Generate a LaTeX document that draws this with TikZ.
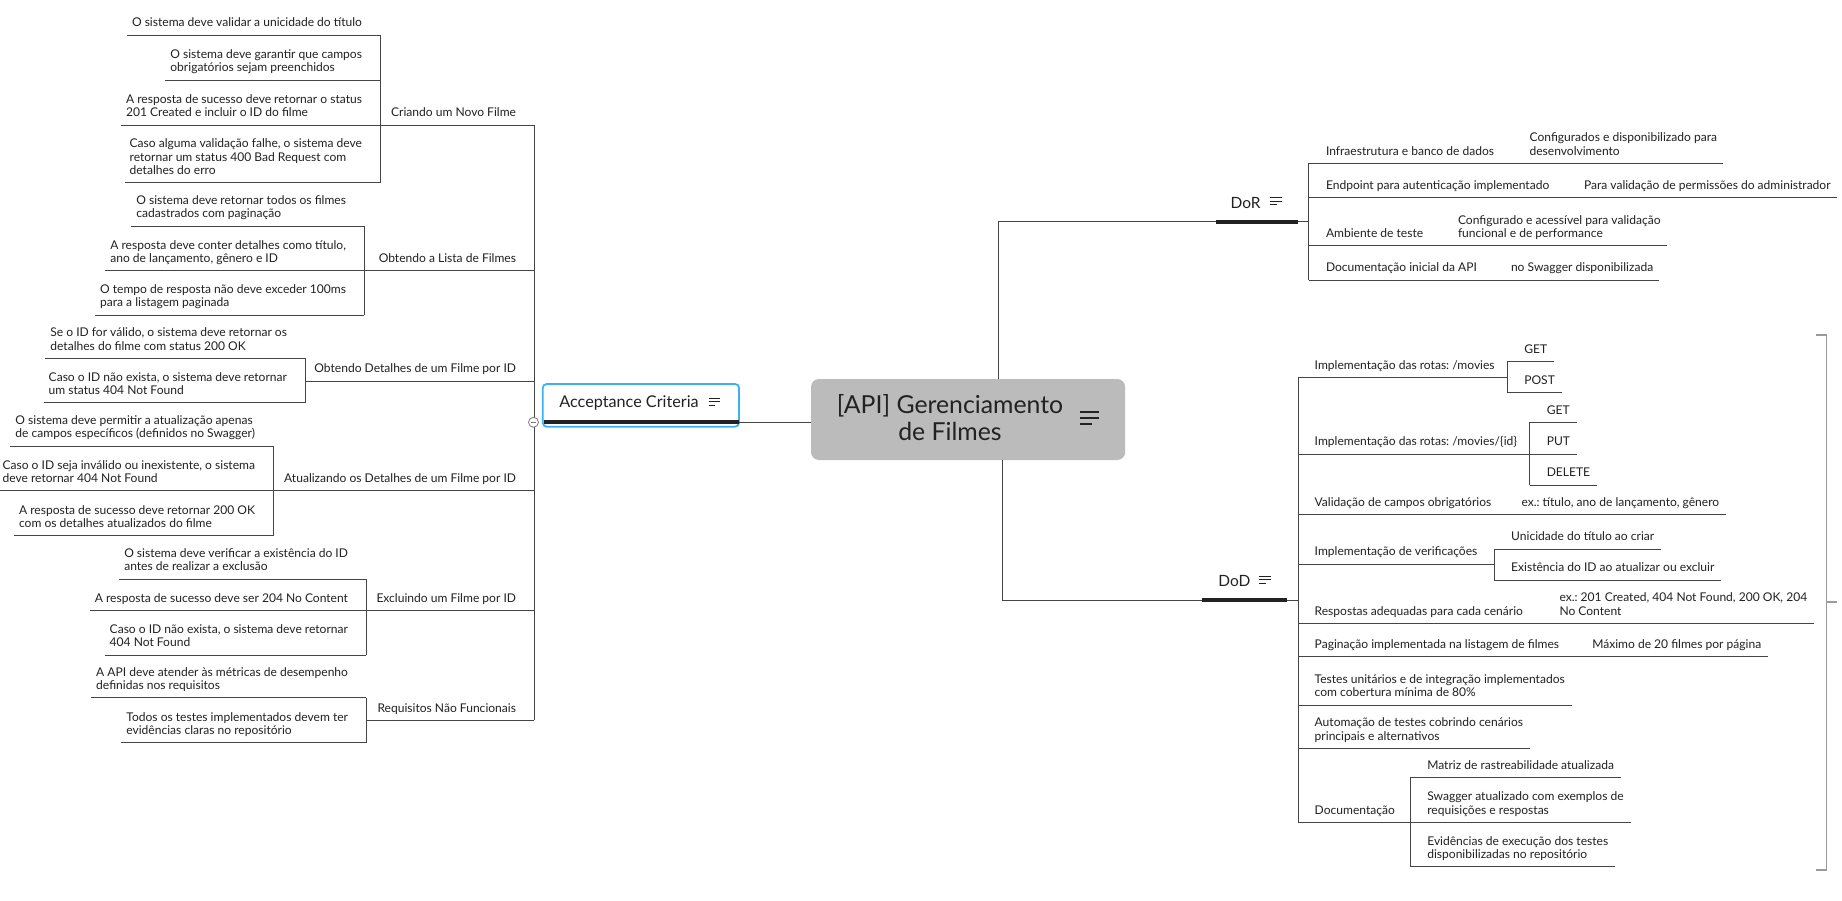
\documentclass[tikz,border=0pt]{standalone}
\usepackage{fontspec}
\setmainfont{Lato}
\usetikzlibrary{positioning,calc}
\definecolor{inkc}{HTML}{222222}
\definecolor{wirec}{HTML}{444444}
\definecolor{rootfill}{HTML}{BBBBBB}
\definecolor{selblue}{HTML}{38B2F0}
\definecolor{sumgray}{HTML}{9A9A9A}
\definecolor{foldgray}{HTML}{7A7A7A}
\frenchspacing

\begin{document}
\begin{tikzpicture}[
    x=1pt, y=-1pt,
    every node/.style={text=inkc, inner sep=0pt, outer sep=0pt},
    leaf/.style={font=\fontsize{12.05}{13.4}\selectfont, align=left, outer ysep=4pt, execute at end node=\strut},
    lt/.style={leaf, anchor=south east},
    rt/.style={leaf, anchor=south west},
    topic/.style={font=\fontsize{15.5}{18}\selectfont, anchor=base west},
    wire/.style={draw=wirec, line width=0.9pt},
    bar/.style={draw=inkc, line width=4pt},
    rootbox/.style={fill=rootfill, rounded corners=8pt, minimum width=314.2pt, minimum height=81pt},
    acbox/.style={draw=selblue, line width=1.8pt, fill=white, rounded corners=4pt, minimum width=196.3pt, minimum height=42.7pt},
    notes/.pic={\draw[pic actions] (0,0) -- (1,0) (0,0.32) -- (1,0.32) (0,0.64) -- (0.6,0.64);},
]
\fill[white] (0,0) rectangle (1842,901);
\useasboundingbox (0,0) rectangle (1842,901);

% centre
\node[rootbox] (root) at (968.1,419.5) {};
\node[font=\fontsize{24.8}{27.3}\selectfont, align=center] (rootlbl) at (950,417.5) {[API] Gerenciamento\\de Filmes};
\pic[draw=inkc, line width=1.8pt, scale=19.4] at (1080,411.7) {notes};

% acceptance criteria
\node[acbox] (ac) at (640.9,405.35) {};
\node[topic, font=\fontsize{16.2}{18}\selectfont] (aclbl) at (559.3,407.7) {Acceptance Criteria};
\pic[draw=inkc, line width=0.9pt, scale=11.2] at (708.5,398) {notes};
\coordinate (acbar) at (739,422.3);
\draw[bar] (543.5,422.3) -- (acbar);
\draw[wire] (acbar) -- (acbar -| root.west);

\coordinate (acT) at (534,125);
\coordinate (crT) at (380,125);
\coordinate (liT) at (364,270.7);
\coordinate (deT) at (305,381);
\coordinate (atT) at (273,490.7);
\coordinate (exT) at (366,610.3);
\coordinate (reT) at (366,720.3);

\node[lt] (cr) at (516,125) {Criando um Novo Filme};
\node[lt] (cr1) at (362,35) {O sistema deve validar a unicidade do título};
\node[lt] (cr2) at (362,80) {O sistema deve garantir que campos\\obrigatórios sejam preenchidos};
\node[lt] (cr3) at (362,125) {A resposta de sucesso deve retornar o status\\201 Created e incluir o ID do filme};
\node[lt] (cr4) at (362,182.7) {Caso alguma validação falhe, o sistema deve\\retornar um status 400 Bad Request com\\detalhes do erro};

\node[lt] (li) at (516,270.7) {Obtendo a Lista de Filmes};
\node[lt] (li1) at (346,226) {O sistema deve retornar todos os filmes\\cadastrados com paginação};
\node[lt] (li2) at (346,270.7) {A resposta deve conter detalhes como título,\\ano de lançamento, gênero e ID};
\node[lt] (li3) at (346,315) {O tempo de resposta não deve exceder 100ms\\para a listagem paginada};

\node[lt] (de) at (516,381) {Obtendo Detalhes de um Filme por ID};
\node[lt] (de1) at (287,358.3) {Se o ID for válido, o sistema deve retornar os\\detalhes do filme com status 200 OK};
\node[lt] (de2) at (287,402.7) {Caso o ID não exista, o sistema deve retornar\\um status 404 Not Found};

\node[lt] (at) at (516,490.7) {Atualizando os Detalhes de um Filme por ID};
\node[lt] (at1) at (255,446) {O sistema deve permitir a atualização apenas\\de campos específicos (definidos no Swagger)};
\node[lt] (at2) at (255,490.7) {Caso o ID seja inválido ou inexistente, o sistema\\deve retornar 404 Not Found};
\node[lt] (at3) at (255,535.7) {A resposta de sucesso deve retornar 200 OK\\com os detalhes atualizados do filme};

\node[lt] (ex) at (516,610.3) {Excluindo um Filme por ID};
\node[lt] (ex1) at (348,579) {O sistema deve verificar a existência do ID\\antes de realizar a exclusão};
\node[lt] (ex2) at (348,610.3) {A resposta de sucesso deve ser 204 No Content};
\node[lt] (ex3) at (348,655) {Caso o ID não exista, o sistema deve retornar\\404 Not Found};

\node[lt] (re) at (516,720.3) {Requisitos Não Funcionais};
\node[lt] (re1) at (348,697.7) {A API deve atender às métricas de desempenho\\definidas nos requisitos};
\node[lt] (re2) at (348,742.7) {Todos os testes implementados devem ter\\evidências claras no repositório};

% left connectors
\draw[wire] (acT) -- (re.south -| acT);
\foreach \c/\t in {cr/crT, li/liT, de/deT, at/atT, ex/exT, re/reT}
    \draw[wire] (\t) -- (\t -| acT);
\foreach \n/\t in {cr1/crT, cr2/crT, cr3/crT, cr4/crT, li1/liT, li2/liT, li3/liT, de1/deT, de2/deT,
                   at1/atT, at2/atT, at3/atT, ex1/exT, ex2/exT, ex3/exT, re1/reT, re2/reT}
    \draw[wire] ([xshift=-5pt]\n.south west) -- (\n.south west -| \t);
\draw[wire] (cr1.south -| crT) -- (cr4.south -| crT);
\draw[wire] (li1.south -| liT) -- (li3.south -| liT);
\draw[wire] (de1.south -| deT) -- (de2.south -| deT);
\draw[wire] (at1.south -| atT) -- (at3.south -| atT);
\draw[wire] (ex1.south -| exT) -- (ex3.south -| exT);
\draw[wire] (re1.south -| reT) -- (re2.south -| reT);

\node[circle, draw=foldgray, fill=white, line width=0.8pt, minimum size=10pt] (fold) at (533.5,422.3) {};
\draw[foldgray, line width=0.8pt] ([xshift=2.2pt]fold.west) -- ([xshift=-2.2pt]fold.east);

% DoR
\node[topic] (dor) at (1230.7,208.8) {DoR};
\pic[draw=inkc, line width=0.9pt, scale=11.5] at (1270.4,197.5) {notes};
\coordinate (dorL) at (1216.4,221.7);
\coordinate (dorR) at (1298.3,221.7);
\coordinate (dorT) at (1308.5,163.3);
\draw[wire] ([xshift=30.4pt]root.north) |- (dorL);
\draw[bar] (dorL) -- (dorR);
\draw[wire] (dorR) -- (dorR -| dorT);

\node[rt] (r1) at (1326,163.3) {Infraestrutura e banco de dados};
\node[rt] (r1g) at (1529.6,163.3) {Configurados e disponibilizado para\\desenvolvimento};
\node[rt] (r2) at (1326,197.7) {Endpoint para autenticação implementado};
\node[rt] (r2g) at (1584,197.7) {Para validação de permissões do administrador};
\node[rt] (r3) at (1326,245.7) {Ambiente de teste};
\node[rt] (r3g) at (1458,245.7) {Configurado e acessível para validação\\funcional e de performance};
\node[rt] (r4) at (1326,280) {Documentação inicial da API};
\node[rt] (r4g) at (1511,280) {no Swagger disponibilizada};

\draw[wire] (r1.south -| dorT) -- (r4.south -| dorT);
\foreach \n in {r1, r2, r3, r4}
    \draw[wire] (\n.south -| dorT) -- ([xshift=6pt]\n g.south east);

% DoD
\node[topic] (dod) at (1218.4,586.5) {DoD};
\pic[draw=inkc, line width=0.9pt, scale=11.1] at (1259.4,576.2) {notes};
\coordinate (dodL) at (1202,600);
\coordinate (dodR) at (1287.2,600);
\coordinate (dodT) at (1298.3,377.3);
\draw[wire] ([xshift=33.9pt]root.south) |- (dodL);
\draw[bar] (dodL) -- (dodR);
\draw[wire] (dodR) -- (dodR -| dodT);

\coordinate (mvT) at (1507,377.3);
\coordinate (idT) at (1529.6,454);
\coordinate (veT) at (1494,564);
\coordinate (docT) at (1410,822.3);

\node[rt] (d1) at (1314.7,377.3) {Implementação das rotas: /movies};
\node[rt] (d1a) at (1524.3,361.7) {GET};
\node[rt] (d1b) at (1524.3,392.7) {POST};
\node[rt] (d2) at (1314.7,454) {Implementação das rotas: /movies/\{id\}};
\node[rt] (d2a) at (1546.8,422.3) {GET};
\node[rt] (d2b) at (1546.8,454) {PUT};
\node[rt] (d2c) at (1546.8,485) {DELETE};
\node[rt] (d3) at (1314.7,514.3) {Validação de campos obrigatórios};
\node[rt] (d3g) at (1521.5,514.3) {ex.: título, ano de lançamento, gênero};
\node[rt] (d4) at (1314.7,564) {Implementação de verificações};
\node[rt] (d4a) at (1511.2,549) {Unicidade do título ao criar};
\node[rt] (d4b) at (1511.2,580) {Existência do ID ao atualizar ou excluir};
\node[rt] (d5) at (1314.7,623.3) {Respostas adequadas para cada cenário};
\node[rt] (d5g) at (1559.5,623.3) {ex.: 201 Created, 404 Not Found, 200 OK, 204\\No Content};
\node[rt] (d6) at (1314.7,656.7) {Paginação implementada na listagem de filmes};
\node[rt] (d6g) at (1592.3,656.7) {Máximo de 20 filmes por página};
\node[rt] (d7) at (1314.7,705) {Testes unitários e de integração implementados\\com cobertura mínima de 80\%};
\node[rt] (d8) at (1314.7,748.3) {Automação de testes cobrindo cenários\\principais e alternativos};
\node[rt] (d9) at (1314.7,822.3) {Documentação};
\node[rt] (d9a) at (1427.3,777.7) {Matriz de rastreabilidade atualizada};
\node[rt] (d9b) at (1427.3,822.3) {Swagger atualizado com exemplos de\\requisições e respostas};
\node[rt] (d9c) at (1427.3,866.7) {Evidências de execução dos testes\\disponibilizadas no repositório};

\draw[wire] (d1.south -| dodT) -- (d9.south -| dodT);
\draw[wire] (d1.south -| dodT) -- (mvT);
\draw[wire] (d2.south -| dodT) -- (idT);
\draw[wire] (d4.south -| dodT) -- (veT);
\draw[wire] (d9.south -| dodT) -- (docT);
\foreach \n in {d3, d5, d6}
    \draw[wire] (\n.south -| dodT) -- ([xshift=7pt]\n g.south east);
\foreach \n in {d7, d8}
    \draw[wire] (\n.south -| dodT) -- ([xshift=7pt]\n.south east);
\draw[wire] (d1a.south -| mvT) -- (d1b.south -| mvT);
\draw[wire] (d2a.south -| idT) -- (d2c.south -| idT);
\draw[wire] (d4a.south -| veT) -- (d4b.south -| veT);
\draw[wire] (d9a.south -| docT) -- (d9c.south -| docT);
\foreach \n/\t in {d1a/mvT, d1b/mvT, d2a/idT, d2b/idT, d2c/idT, d4a/veT, d4b/veT, d9a/docT, d9b/docT, d9c/docT}
    \draw[wire] (\n.south -| \t) -- ([xshift=7pt]\n.south east);

% summary bracket
\coordinate (sumTop) at (1826.5,335);
\coordinate (sumBot) at (1826.5,870);
\draw[sumgray, line width=1.5pt] ([xshift=-10.2pt]sumTop) -- (sumTop) -- (sumBot) -- ([xshift=-10.2pt]sumBot);
\draw[sumgray, line width=1.5pt] (1826.5,602) -- (1836.8,602);
\end{tikzpicture}
\end{document}
